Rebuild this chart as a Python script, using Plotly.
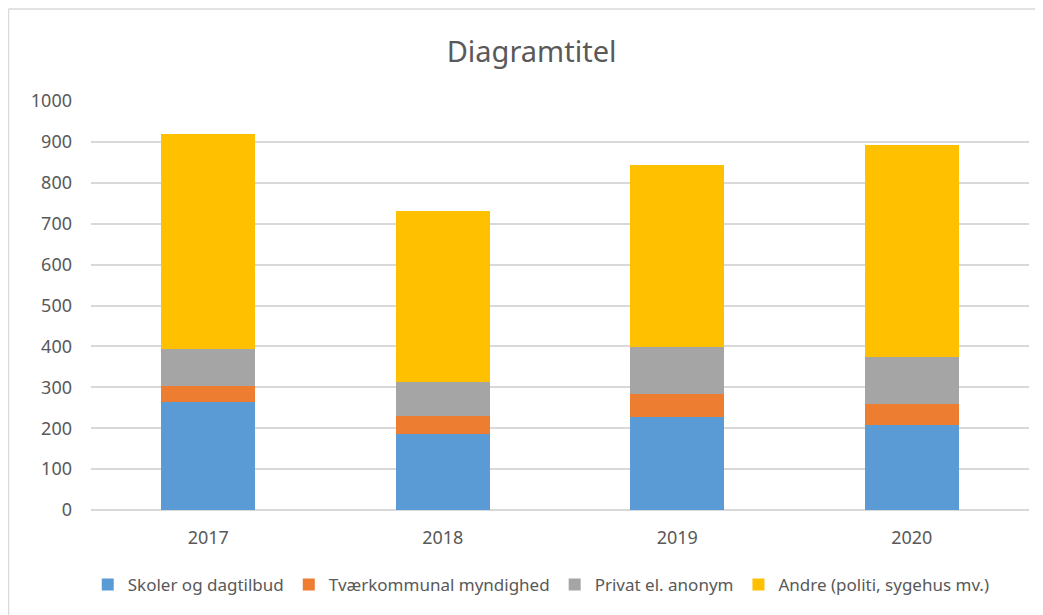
import plotly.graph_objects as go

# data
years = ['2017', '2018', '2019', '2020']
skoler = [263, 186, 228, 208]
tvaerkommunal = [39, 43, 55, 50]
privat = [91, 84, 115, 115]
andre = [526, 418, 446, 519]

series_names = ['Skoler og dagtilbud', 'Tværkommunal myndighed',
                'Privat el. anonym', 'Andre (politi, sygehus mv.)']
colors = ['#5b9bd5', '#ed7d31', '#a5a5a5', '#ffc000']
y_ticks = [0, 100, 200, 300, 400, 500, 600, 700, 800, 900, 1000]

fig = go.Figure()
for name, vals, color in zip(series_names, [skoler, tvaerkommunal, privat, andre], colors):
    fig.add_trace(go.Bar(x=years, y=vals, name=name, marker=dict(color=color, line=dict(width=0))))

fig.update_layout(
    barmode='stack',
    bargap=0.6,
    width=1043,
    height=615,
    paper_bgcolor='white',
    plot_bgcolor='white',
    font=dict(family='Noto Sans, Open Sans, sans-serif', size=18, color='#595959'),
    title=dict(text='Diagramtitel', x=0.502, xref='container', xanchor='center',
               y=0.928, yref='container', yanchor='middle',
               font=dict(size=29, color='#595959')),
    margin=dict(l=83, r=22, t=93, b=113, autoexpand=False),
    legend=dict(orientation='h', x=0.48, xanchor='center', y=-0.183, yanchor='middle',
                font=dict(size=17, color='#595959'), itemwidth=30, traceorder='normal',
                tracegroupgap=0),
    xaxis=dict(showgrid=False, ticks='', showline=False, tickfont=dict(size=18),
               ticklabelstandoff=15),
    yaxis=dict(range=[0, 1000], tickvals=y_ticks, showgrid=True, gridcolor='#d9d9d9',
               gridwidth=1.5, zeroline=True, zerolinecolor='#d9d9d9', zerolinewidth=1.5,
               ticks='', showline=False, ticklabelstandoff=18, tickfont=dict(size=18)),
    shapes=[
        dict(type='line', xref='paper', yref='paper', x0=-0.088, x1=1.05, y0=1.225, y1=1.225,
             line=dict(color='#d9d9d9', width=1.5)),
        dict(type='line', xref='paper', yref='paper', x0=-0.088, x1=-0.088, y0=-0.3, y1=1.225,
             line=dict(color='#d9d9d9', width=1.5)),
    ],
)

fig.write_html('out.html')
